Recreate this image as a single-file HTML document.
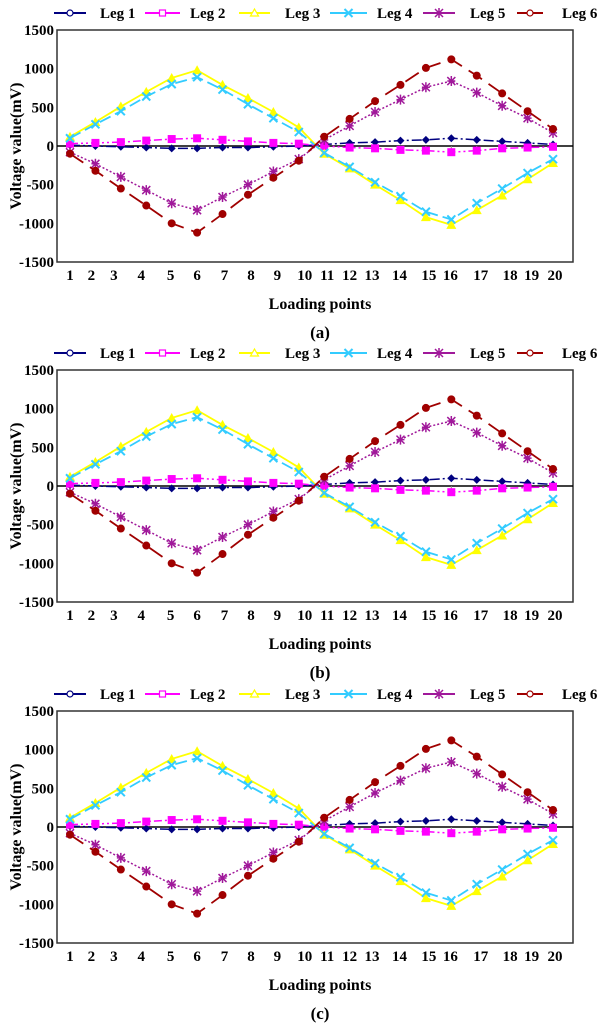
<!DOCTYPE html>
<html><head><meta charset="utf-8">
<style>
html,body{margin:0;padding:0;background:#fff;}
svg{display:block;font-family:"Liberation Serif",serif;font-weight:bold;}
</style></head>
<body>
<svg id="fig" width="600" height="1024" viewBox="0 0 600 1024" xmlns="http://www.w3.org/2000/svg"></svg>
<script>
const categories = [1,2,3,4,5,6,7,8,9,10,11,12,13,14,15,16,17,18,19,20];
const seriesNames = ["Leg 1","Leg 2","Leg 3","Leg 4","Leg 5","Leg 6"];
const leg1 = [10,0,-10,-20,-30,-30,-20,-20,-10,0,20,40,50,70,80,100,80,60,40,20];
const leg2 = [30,40,50,70,90,100,80,60,40,30,0,-20,-30,-50,-60,-80,-60,-30,-20,-10];
const leg3 = [120,310,510,700,880,980,790,620,440,240,-100,-290,-500,-700,-920,-1020,-830,-640,-430,-220];
const leg4 = [100,280,450,640,800,890,730,540,360,180,-90,-270,-470,-650,-850,-950,-740,-550,-350,-170];
const leg5 = [-80,-230,-400,-570,-740,-830,-660,-500,-330,-170,80,260,440,600,760,840,690,520,360,170];
const leg6 = [-100,-320,-550,-770,-1000,-1120,-880,-630,-410,-190,120,350,580,790,1010,1120,910,680,450,220];
const yTicks = [1500,1000,500,0,-500,-1000,-1500];
const panelLabels = ["(a)","(b)","(c)"];

const NS="http://www.w3.org/2000/svg";
const svg=document.getElementById('fig');
function mk(tag,attrs,parent){const e=document.createElementNS(NS,tag);for(const k in attrs)e.setAttribute(k,attrs[k]);(parent||svg).appendChild(e);return e;}

const styles=[
 {c:"#000080",dash:"10,3,2,3",m:"diamond",w:1.5},
 {c:"#ff00ff",dash:"8,3,2,3,2,3",m:"square",w:1.5},
 {c:"#ffff00",dash:"",m:"triangle",w:1.8},
 {c:"#33ccff",dash:"12,5",m:"x",w:1.8},
 {c:"#a0189a",dash:"2,2",m:"star",w:1.5},
 {c:"#a00000",dash:"16,8",m:"circle",w:1.8}
];
const allSeries=[leg1,leg2,leg3,leg4,leg5,leg6];
// label positional nudges (layout only)
const labelNudge=[0,-4,-7,-5,-1,0,2,3,4,6,3,0,-3,-1,3,-1,4,8,4,2];

function marker(g,type,x,y,c){
  let e;
  if(type==="diamond") e=mk('polygon',{points:`${x},${y-4} ${x+4},${y} ${x},${y+4} ${x-4},${y}`,fill:c},g);
  else if(type==="square") e=mk('rect',{x:x-4,y:y-4,width:8,height:8,fill:c},g);
  else if(type==="triangle") e=mk('polygon',{points:`${x},${y-5} ${x+5},${y+4} ${x-5},${y+4}`,fill:c},g);
  else if(type==="circle") e=mk('circle',{cx:x,cy:y,r:4,fill:c},g);
  else if(type==="x") e=mk('path',{d:`M${x-4},${y-4}L${x+4},${y+4}M${x+4},${y-4}L${x-4},${y+4}`,stroke:c,'stroke-width':2,fill:'none'},g);
  else e=mk('path',{d:`M${x-4},${y-4}L${x+4},${y+4}M${x+4},${y-4}L${x-4},${y+4}M${x},${y-5}L${x},${y+5}M${x-4},${y}L${x+4},${y}`,stroke:c,'stroke-width':1.5,fill:'none'},g);
  return e;
}

const legX=[[54,86,100],[145,180,190],[239,270,285],[330,367,377],[423,455,470],[517,543,562]];

for(let p=0;p<3;p++){
  const off=[0,340,681][p];
  const top=30+off, bot=262+off, left=57, right=573, zeroY=146+off;
  const panel=mk('g',{});
  
  
  const yScale=v=>zeroY-v*(bot-top)/3000;
  const xScale=i=>70+(i-1)*(553-70)/19;

  // legend
  const lg=mk('g',{},panel);
  
  
  styles.forEach((s,k)=>{
    const le=mk('g',{},lg);
    
    
    const ly=13+off;
    mk('line',{x1:legX[k][0],y1:ly,x2:legX[k][1],y2:ly,stroke:s.c,'stroke-width':2},le);
    const mx=(legX[k][0]+legX[k][1])/2;
    if(s.m==="square") mk('rect',{x:mx-3,y:ly-3,width:6,height:6,fill:'#fff',stroke:s.c,'stroke-width':1.2},le);
    else if(s.m==="triangle") mk('polygon',{points:`${mx},${ly-4} ${mx+4},${ly+3} ${mx-4},${ly+3}`,fill:'#fff',stroke:s.c,'stroke-width':1.2},le);
    else if(s.m==="circle"||s.m==="diamond") mk('circle',{cx:mx,cy:ly,r:3,fill:'#fff',stroke:s.c,'stroke-width':1.2},le);
    else marker(le,s.m,mx,ly,s.c);
    const t=mk('text',{x:legX[k][2],y:ly+5,'font-size':15,fill:'#000'},le);
    t.textContent=seriesNames[k];
  });

  // axes frame
  const fr=mk('rect',{x:left,y:top,width:right-left,height:bot-top,fill:'none',stroke:'#333','stroke-width':1.5},panel);
  
  
  const zl=mk('line',{x1:left,y1:zeroY,x2:right,y2:zeroY,stroke:'#000','stroke-width':1.5},panel);
  
  
  // zero-line ticks
  categories.forEach(c=>{mk('line',{x1:xScale(c),y1:zeroY,x2:xScale(c),y2:zeroY+3,stroke:'#888','stroke-width':1},panel);});

  // y ticks
  yTicks.forEach(v=>{
    const t=mk('text',{x:left-3,y:yScale(v)+5,'text-anchor':'end','font-size':15,fill:'#000'},panel);
    
    
    t.textContent=v;
  });
  // x ticks
  categories.forEach((c,i)=>{
    const t=mk('text',{x:xScale(c)+labelNudge[i],y:280+off,'text-anchor':'middle','font-size':15,fill:'#000'},panel);
    
    
    t.textContent=c;
  });
  const yt=mk('text',{x:0,y:0,transform:`translate(21,${zeroY}) rotate(-90)`,'text-anchor':'middle','font-size':16,fill:'#000'},panel);
  
  
  yt.textContent="Voltage value(mV)";
  const xt=mk('text',{x:320,y:309+off,'text-anchor':'middle','font-size':16,fill:'#000'},panel);
  
  
  xt.textContent="Loading points";
  const pl=mk('text',{x:320,y:338+off,'text-anchor':'middle','font-size':17,fill:'#000'},panel);
  
  
  pl.textContent=panelLabels[p];

  // series
  allSeries.forEach((data,k)=>{
    const s=styles[k];
    const g=mk('g',{},panel);
    
    
    const pts=data.map((v,i)=>xScale(categories[i])+','+yScale(v)).join(' ');
    const attrs={points:pts,fill:'none',stroke:s.c,'stroke-width':s.w};
    if(s.dash) attrs['stroke-dasharray']=s.dash;
    mk('polyline',attrs,g);
    data.forEach((v,i)=>{
      const m=marker(g,s.m,xScale(categories[i]),yScale(v),s.c);
      
      
    });
  });
}
</script>
</body></html>
